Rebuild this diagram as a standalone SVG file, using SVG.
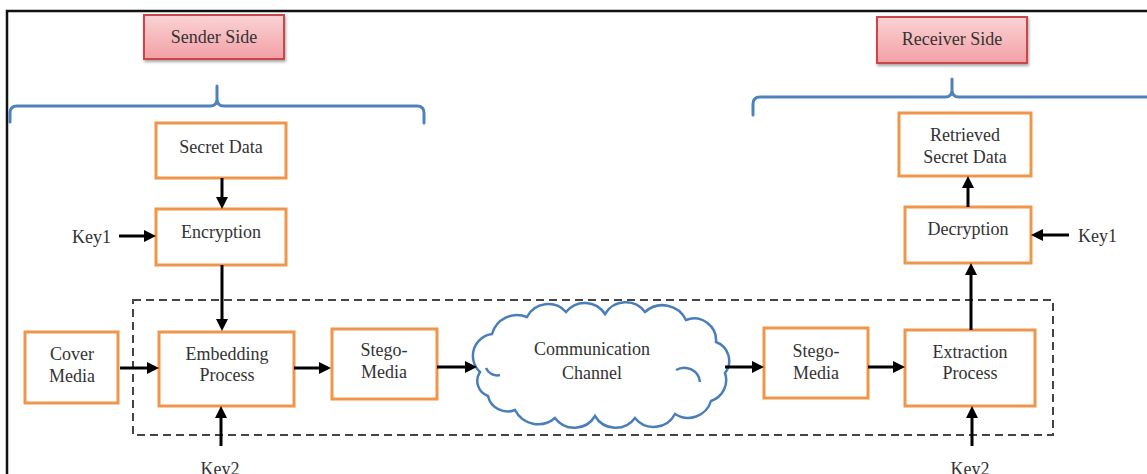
<svg xmlns="http://www.w3.org/2000/svg" width="1147" height="474" viewBox="0 0 1147 474">
  <style>
    .box { fill: #ffffff; stroke: #f0964a; stroke-width: 3; }
    .side { fill: url(#pinkGrad); stroke: #c9464b; stroke-width: 2; filter: url(#shadow); }
    .lbl { font-family: "Liberation Serif", "Times New Roman", serif; font-size: 18px; fill: #333333; text-anchor: middle; }
    .key { font-family: "Liberation Serif", "Times New Roman", serif; font-size: 18px; fill: #333333; }
    .brace { fill: none; stroke: #4f81bd; stroke-width: 3; stroke-linecap: round; }
    .arrow { fill: none; stroke: #000; stroke-width: 3; marker-end: url(#head); }
    .cloud { fill: #ffffff; stroke: #4a7ebb; stroke-width: 2.5; }
  </style>
  <defs>
    <linearGradient id="pinkGrad" x1="0" y1="0" x2="0" y2="1">
      <stop offset="0" stop-color="#fbd3d5"/>
      <stop offset="1" stop-color="#f2a0a5"/>
    </linearGradient>
    <filter id="shadow" x="-20%" y="-20%" width="140%" height="150%">
      <feDropShadow dx="1" dy="2" stdDeviation="1.5" flood-color="#000" flood-opacity="0.35"/>
    </filter>
    <marker id="head" markerUnits="userSpaceOnUse" markerWidth="13" markerHeight="13" refX="4" refY="6" orient="auto">
      <path d="M0,0 L12,6 L0,12 z" fill="#000"/>
    </marker>
  </defs>

  <rect width="1147" height="474" fill="#ffffff"/>
  <!-- outer frame -->
  <path d="M7,480 L7,11 L1150,11" fill="none" stroke="#111" stroke-width="2.5"/>

  <!-- side headers -->
  <g id="sender-side">
    <rect class="side" x="144" y="15" width="140" height="44"/>
    <text class="lbl" x="214" y="43">Sender Side</text>
  </g>
  <g id="receiver-side">
    <rect class="side" x="877" y="17" width="150" height="46"/>
    <text class="lbl" x="952" y="45">Receiver Side</text>
  </g>

  <!-- braces -->
  <g id="braces">
    <path class="brace" d="M10,122 L10,113 Q10,106 17,106 L210,106 Q217,106 217,99 L217,86 M217,99 Q217,106 224,106 L417,106 Q424,106 424,113 L424,123"/>
    <path class="brace" d="M753,115 L753,104 Q753,97 760,97 L945,97 Q952,97 952,90 L952,79 M952,90 Q952,97 959,97 L1150,97"/>
  </g>

  <!-- dashed channel region -->
  <rect id="channel-region" x="133" y="300" width="920" height="135" fill="none" stroke="#444" stroke-width="2" stroke-dasharray="8,5"/>

  <!-- sender nodes -->
  <g id="secret-data">
    <rect class="box" x="156" y="123" width="130" height="55"/>
    <text class="lbl" x="221" y="153">Secret Data</text>
  </g>
  <g id="encryption">
    <rect class="box" x="156" y="209" width="130" height="56"/>
    <text class="lbl" x="221" y="238">Encryption</text>
  </g>
  <g id="key1-sender">
    <text class="key" x="72" y="243">Key1</text>
  </g>
  <g id="cover-media">
    <rect class="box" x="25" y="332" width="93" height="71"/>
    <text class="lbl" x="72" y="360">Cover</text>
    <text class="lbl" x="72" y="382">Media</text>
  </g>
  <g id="embedding">
    <rect class="box" x="159" y="332" width="135" height="74"/>
    <text class="lbl" x="227" y="360">Embedding</text>
    <text class="lbl" x="227" y="381">Process</text>
  </g>
  <g id="stego-media-1">
    <rect class="box" x="332" y="329" width="105" height="70"/>
    <text class="lbl" x="384" y="356">Stego-</text>
    <text class="lbl" x="384" y="378">Media</text>
  </g>
  <g id="key2-sender">
    <text class="lbl" x="220" y="475">Key2</text>
  </g>

  <!-- communication channel -->
  <g id="channel">
    <path class="cloud" d="M480,372 A22,22 0 0 1 492,334 A26,26 0 0 1 527,317 A24,24 0 0 1 566,312 A24,24 0 0 1 605,314 A24,24 0 0 1 645,312 A26,26 0 0 1 686,320 A22,22 0 0 1 716,342 A20,20 0 0 1 725,373 A22,22 0 0 1 711,401 A24,24 0 0 1 675,414 A24,24 0 0 1 635,418 A24,24 0 0 1 595,416 A24,24 0 0 1 555,418 A26,26 0 0 1 515,410 A20,20 0 0 1 488,396 A16,16 0 0 1 480,372 Z"/>
    <path d="M486,368 A12,12 0 0 0 500,375" fill="none" stroke="#4a7ebb" stroke-width="2.5"/>
    <path d="M676,370 A16,16 0 0 1 700,382" fill="none" stroke="#4a7ebb" stroke-width="2.5"/>
    <text class="lbl" x="592" y="355">Communication</text>
    <text class="lbl" x="592" y="379">Channel</text>
  </g>

  <!-- receiver nodes -->
  <g id="stego-media-2">
    <rect class="box" x="764" y="328" width="104" height="70"/>
    <text class="lbl" x="816" y="357">Stego-</text>
    <text class="lbl" x="816" y="379">Media</text>
  </g>
  <g id="extraction">
    <rect class="box" x="905" y="330" width="130" height="76"/>
    <text class="lbl" x="970" y="358">Extraction</text>
    <text class="lbl" x="970" y="379">Process</text>
  </g>
  <g id="key2-receiver">
    <text class="lbl" x="970" y="475">Key2</text>
  </g>
  <g id="decryption">
    <rect class="box" x="905" y="207" width="126" height="56"/>
    <text class="lbl" x="968" y="235">Decryption</text>
  </g>
  <g id="retrieved">
    <rect class="box" x="899" y="113" width="132" height="63"/>
    <text class="lbl" x="965" y="141">Retrieved</text>
    <text class="lbl" x="965" y="163">Secret Data</text>
  </g>
  <g id="key1-receiver">
    <text class="key" x="1078" y="242">Key1</text>
  </g>

  <!-- connectors -->
  <g id="connectors">
    <line class="arrow" x1="222" y1="178" x2="222" y2="201"/>
    <line class="arrow" x1="119" y1="236" x2="148" y2="236"/>
    <line class="arrow" x1="222" y1="265" x2="222" y2="323"/>
    <line class="arrow" x1="120" y1="368" x2="151" y2="368"/>
    <line class="arrow" x1="294" y1="368" x2="323" y2="368"/>
    <line class="arrow" x1="437" y1="367" x2="469" y2="367"/>
    <line class="arrow" x1="221" y1="446" x2="221" y2="414"/>
    <line class="arrow" x1="725" y1="367" x2="756" y2="367"/>
    <line class="arrow" x1="868" y1="367" x2="897" y2="367"/>
    <line class="arrow" x1="972" y1="446" x2="972" y2="414"/>
    <line class="arrow" x1="971" y1="330" x2="971" y2="271"/>
    <line class="arrow" x1="968" y1="207" x2="968" y2="184"/>
    <line class="arrow" x1="1069" y1="235" x2="1039" y2="235"/>
  </g>
</svg>
